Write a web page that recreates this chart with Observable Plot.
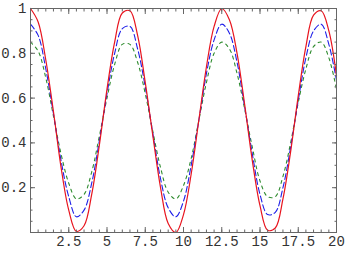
<!DOCTYPE html>
<html>
<head>
<meta charset="utf-8">
<script src="https://cdn.jsdelivr.net/npm/d3@7"></script>
<script src="https://cdn.jsdelivr.net/npm/@observablehq/plot@0.6"></script>
<style>
  html, body { margin: 0; padding: 0; background: #fff; }
  #chart svg { display: block; }
</style>
</head>
<body>
<div id="chart"></div>
<script>
// x samples (step 0.5)
const xs = [0,0.5,1,1.5,2,2.5,3,3.5,4,4.5,5,5.5,6,6.5,7,7.5,8,8.5,9,9.5,10,10.5,11,11.5,12,12.5,13,13.5,14,14.5,15,15.5,16,16.5,17,17.5,18,18.5,19,19.5,20];
// red solid series
const redVals = [1.00,0.94,0.77,0.54,0.29,0.10,0.005,0.03,0.17,0.39,0.64,0.85,0.98,0.99,0.88,0.67,0.43,0.20,0.04,0.00,0.08,0.26,0.50,0.74,0.92,1.00,0.95,0.80,0.57,0.32,0.12,0.01,0.02,0.15,0.36,0.61,0.83,0.97,0.99,0.90,0.70];
// blue dashed series
const blueVals = [0.93,0.88,0.73,0.53,0.32,0.16,0.07,0.10,0.22,0.41,0.62,0.80,0.91,0.92,0.82,0.65,0.44,0.24,0.11,0.07,0.14,0.30,0.50,0.71,0.86,0.93,0.89,0.76,0.56,0.35,0.17,0.08,0.09,0.20,0.38,0.59,0.78,0.90,0.93,0.84,0.68];
// green dashed series
const greenVals = [0.85,0.81,0.69,0.52,0.35,0.22,0.15,0.17,0.27,0.43,0.60,0.75,0.84,0.84,0.76,0.62,0.45,0.29,0.18,0.15,0.21,0.33,0.50,0.67,0.80,0.85,0.82,0.71,0.55,0.38,0.23,0.16,0.16,0.25,0.40,0.58,0.73,0.83,0.85,0.78,0.64];

const xTicks = [2.5,5,7.5,10,12.5,15,17.5,20];
const xTickLabels = ["2.5","5","7.5","10","12.5","15","17.5","20"];
const yTicks = [0.2,0.4,0.6,0.8,1];
const yTickLabels = ["0.2","0.4","0.6","0.8","1"];
const xMinor = d3.range(0, 20.001, 0.5);
const yMinor = d3.range(0, 1.0001, 0.05);

const mk = (vals) => xs.map((x, i) => ({x, y: vals[i]}));
const red = mk(redVals), blue = mk(blueVals), green = mk(greenVals);

const frameColor = "#666";
const fmtX = d => xTickLabels[xTicks.indexOf(d)];
const fmtY = d => yTickLabels[yTicks.indexOf(d)];

const chart = Plot.plot({
  width: 345,
  height: 254,
  marginLeft: 30,
  marginRight: 9,
  marginTop: 8,
  marginBottom: 22,
  style: {fontFamily: "Liberation Mono", fontSize: "14px", color: "#333", background: "#fff"},
  x: {domain: [0, 20]},
  y: {domain: [0, 1]},
  marks: [
    Plot.line(green, {x: "x", y: "y", stroke: "#2e8b2e", strokeWidth: 1.1, strokeDasharray: "3,4", curve: "catmull-rom"}),
    Plot.line(blue, {x: "x", y: "y", stroke: "#1f1fe8", strokeWidth: 1.1, strokeDasharray: "6,3", curve: "catmull-rom"}),
    Plot.line(red, {x: "x", y: "y", stroke: "#e8141e", strokeWidth: 1.2, curve: "catmull-rom"}),
    Plot.frame({stroke: frameColor, strokeWidth: 1}),
    // major inward ticks
    Plot.axisX(xTicks, {anchor: "bottom", tickSize: -5, fill: "none", stroke: frameColor, label: null}),
    Plot.axisX(xTicks, {anchor: "top", tickSize: -5, fill: "none", stroke: frameColor, label: null}),
    Plot.axisY(yTicks, {anchor: "left", tickSize: -5, fill: "none", stroke: frameColor, label: null}),
    Plot.axisY(yTicks, {anchor: "right", tickSize: -5, fill: "none", stroke: frameColor, label: null}),
    // minor inward ticks
    Plot.axisX(xMinor, {anchor: "bottom", tickSize: -2.5, fill: "none", stroke: frameColor, label: null}),
    Plot.axisX(xMinor, {anchor: "top", tickSize: -2.5, fill: "none", stroke: frameColor, label: null}),
    Plot.axisY(yMinor, {anchor: "left", tickSize: -2.5, fill: "none", stroke: frameColor, label: null}),
    Plot.axisY(yMinor, {anchor: "right", tickSize: -2.5, fill: "none", stroke: frameColor, label: null}),
    // labels
    Plot.axisX(xTicks, {anchor: "bottom", tickSize: 0, tickPadding: 4, tickFormat: fmtX, fill: "#333", label: null}),
    Plot.axisY(yTicks, {anchor: "left", tickSize: 0, tickPadding: 4, tickFormat: fmtY, fill: "#333", label: null})
  ]
});
document.getElementById("chart").appendChild(chart);
</script>
</body>
</html>
